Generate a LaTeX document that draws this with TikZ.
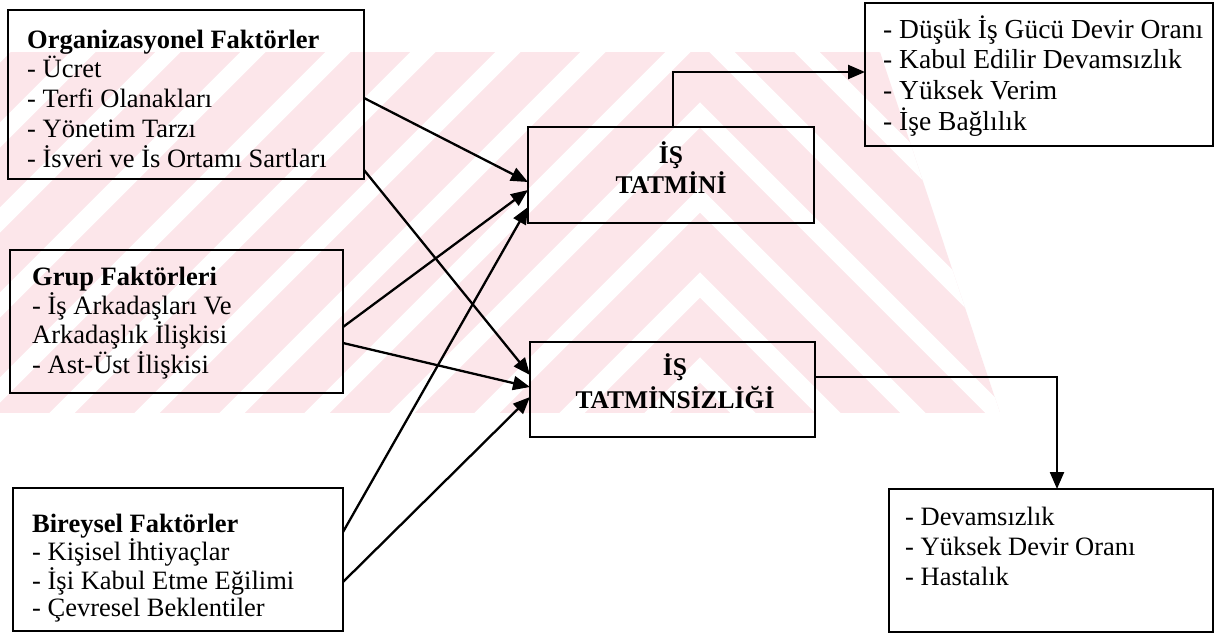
\documentclass[tikz,border=0pt]{standalone}
\usepackage{fontspec}
\setmainfont{Liberation Serif}
\usetikzlibrary{arrows.meta,calc}
\definecolor{wmpink}{RGB}{252,230,234}
\newcommand{\mytopstrut}{\rule{0pt}{25pt}}
\tikzset{
  box/.style={draw, line width=2.3pt, inner sep=0pt, outer sep=0pt, anchor=north west},
  txt/.style={anchor=north west, inner sep=0pt, align=left, font=\fontsize{26.5}{29.7}\selectfont},
  ctxt/.style={anchor=north, inner sep=0pt, align=center, font=\fontsize{25.5}{30}\selectfont\bfseries},
  conn/.style={line width=2.3pt, -{Triangle[length=17pt,width=14pt]}},
  wmgap/.style={white, line width=18pt},
}
\begin{document}
\begin{tikzpicture}[x=1pt,y=-1pt]
\useasboundingbox (0,0) rectangle (1215,634);
\fill[white] (0,0) rectangle (1215,634);
% watermark
\begin{scope}
  \clip (0,52) -- (880,52) -- (1000,413) -- (0,413) -- cycle;
  \fill[wmpink] (0,52) rectangle (1000,413);
  \begin{scope}
    \clip (0,0) rectangle (700,634);
    \foreach \c in {50,135,...,1155} \draw[wmgap] (\c,0) -- ({\c-500},500);
  \end{scope}
  \begin{scope}
    \clip (700,0) rectangle (1215,634);
    \foreach \d in {245,330,...,1435} \draw[wmgap] (\d,0) -- ({\d+500},500);
  \end{scope}
\end{scope}
% boxes
\node[box, minimum width=356pt, minimum height=169pt] (org) at (8,10) {};
\node[box, minimum width=333pt, minimum height=143pt] (grup) at (10,250) {};
\node[box, minimum width=330pt, minimum height=143pt] (bir) at (13,488) {};
\node[box, minimum width=286pt, minimum height=96pt] (tat) at (528,127) {};
\node[box, minimum width=285pt, minimum height=95pt] (tsz) at (530,342) {};
\node[box, minimum width=348pt, minimum height=143pt] (tr) at (865,3) {};
\node[box, minimum width=324pt, minimum height=143pt] (br) at (889,489) {};
% texts
\node[txt] (orgtext) at (27,23) {\mytopstrut\textbf{Organizasyonel Faktörler}\\- Ücret\\- Terfi Olanakları\\- Yönetim Tarzı\\- İsveri ve İs Ortamı Sartları};
\node[txt, font=\fontsize{26.5}{29.3}\selectfont] (gruptext) at (32,260) {\mytopstrut\textbf{Grup Faktörleri}\\- İş Arkadaşları Ve\\Arkadaşlık İlişkisi\\- Ast-Üst İlişkisi};
\node[txt, font=\fontsize{26.5}{27}\selectfont] (birtext) at (32,507) {\mytopstrut\textbf{Bireysel Faktörler}\\- Kişisel İhtiyaçlar\\- İşi Kabul Etme Eğilimi\\- Çevresel Beklentiler};
\node[txt, font=\fontsize{27.5}{30.7}\selectfont] (trtext) at (883,13) {\mytopstrut- Düşük İş Gücü Devir Oranı\\- Kabul Edilir Devamsızlık\\- Yüksek Verim\\- İşe Bağlılık};
\node[txt, font=\fontsize{26.5}{30}\selectfont] (brtext) at (905,500) {\mytopstrut- Devamsızlık\\- Yüksek Devir Oranı\\- Hastalık};
\node[ctxt] (tattext) at (671,138) {\mytopstrut İŞ\\TATMİNİ};
\node[ctxt, font=\fontsize{25.5}{33}\selectfont\bfseries] (tsztext) at (675,350) {\mytopstrut İŞ\\TATMİNSİZLİĞİ};
% connectors
\draw[conn] ($(org.north east)+(0,88)$) -- ($(tat.north west)+(0,55)$);
\draw[conn] ($(org.north east)+(0,160)$) -- ($(tsz.north west)+(0,33)$);
\draw[conn] ($(grup.north east)+(0,77)$) -- ($(tat.north west)+(0,63)$);
\draw[conn] ($(grup.north east)+(0,93)$) -- ($(tsz.north west)+(0,45)$);
\draw[conn] ($(bir.north east)+(0,44)$) -- ($(tat.north west)+(0,80)$);
\draw[conn] ($(bir.north east)+(0,94)$) -- ($(tsz.north west)+(0,55)$);
\draw[conn] ($(tat.north west)+(145,0)$) |- ($(tr.north west)+(0,69)$);
\draw[conn] ($(tsz.north east)+(0,35)$) -| ($(br.north west)+(168,0)$);
\end{tikzpicture}
\end{document}
